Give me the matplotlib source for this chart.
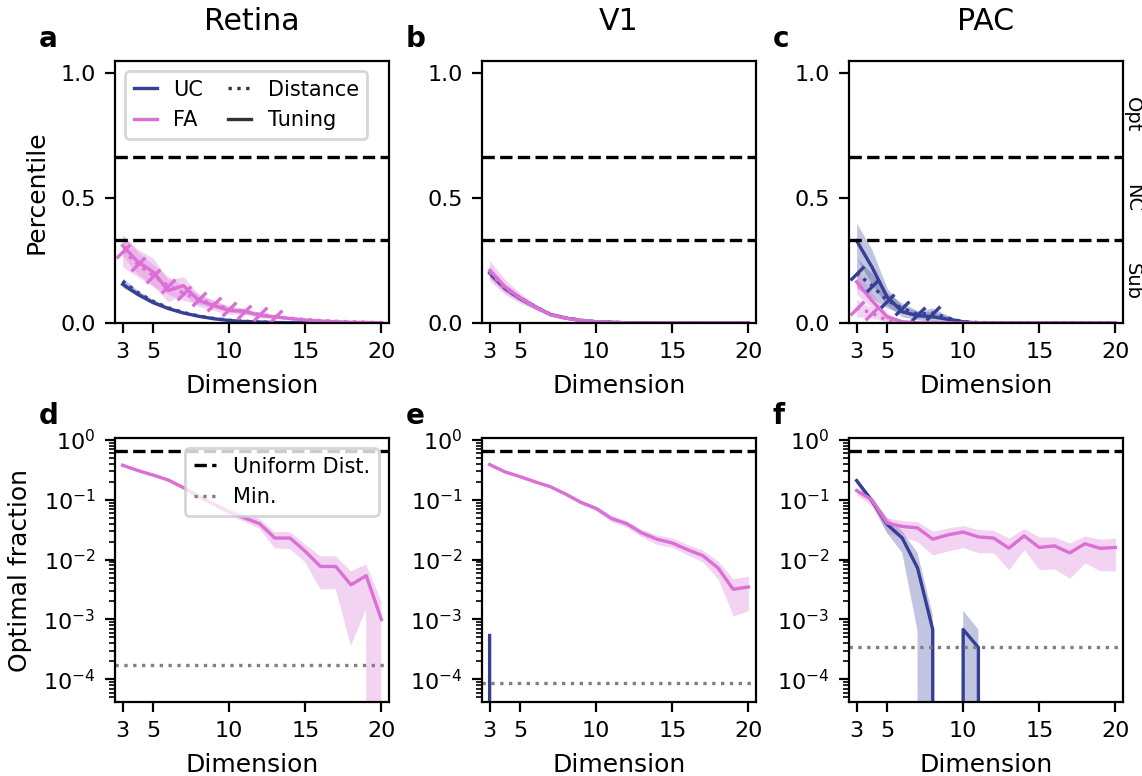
import numpy as np
import matplotlib
matplotlib.use("Agg")
import matplotlib.pyplot as plt
from matplotlib.lines import Line2D

plt.rcParams['font.family'] = ['DejaVu Sans']
plt.rcParams['font.size'] = 9
plt.rcParams['xtick.labelsize'] = 8
plt.rcParams['ytick.labelsize'] = 8
plt.rcParams['legend.fontsize'] = 7.5

dims = np.arange(3, 21)
regions = ["Retina", "V1", "PAC"]

# ------------------------------------------------------------------
# Percentile of UC / FA codes (top row), mean and spread
# ------------------------------------------------------------------
ret_uc_tun = [0.155, 0.115, 0.082, 0.058, 0.040, 0.027, 0.017, 0.010, 0.006,
              0.004, 0.002, 0.001, 0.001, 0, 0, 0, 0, 0]
ret_uc_tun_err = [0.012, 0.009, 0.007, 0.005, 0.004, 0.003, 0.002, 0.001,
                  0.001, 0.001, 0, 0, 0, 0, 0, 0, 0, 0]
ret_uc_dist = [0.168, 0.122, 0.087, 0.061, 0.042, 0.028, 0.018, 0.011, 0.007,
               0.004, 0.002, 0.001, 0.001, 0, 0, 0, 0, 0]
ret_uc_dist_err = [0.012, 0.009, 0.007, 0.005, 0.004, 0.003, 0.002, 0.001,
                   0.001, 0.001, 0, 0, 0, 0, 0, 0, 0, 0]
ret_fa_tun = [0.31, 0.245, 0.205, 0.13, 0.15, 0.09, 0.07, 0.05, 0.048, 0.03,
              0.025, 0.018, 0.012, 0.008, 0.005, 0.003, 0.002, 0.001]
ret_fa_tun_err = [0.04, 0.05, 0.055, 0.045, 0.035, 0.025, 0.02, 0.015, 0.012,
                  0.01, 0.008, 0.006, 0.004, 0.003, 0.002, 0.002, 0.001, 0.001]
ret_fa_dist = [0.29, 0.235, 0.19, 0.15, 0.12, 0.095, 0.075, 0.057, 0.045,
               0.035, 0.026, 0.019, 0.014, 0.01, 0.007, 0.005, 0.003, 0.002]
ret_fa_dist_err = [0.065, 0.05, 0.045, 0.035, 0.03, 0.02, 0.015, 0.011,
                   0.009, 0.007, 0.006, 0.004, 0.003, 0.002, 0.002, 0.001,
                   0.001, 0.001]

v1_uc_tun = [0.2, 0.14, 0.098, 0.065, 0.034, 0.02, 0.01, 0.005, 0.003, 0.001,
             0.001, 0, 0, 0, 0, 0, 0, 0]
v1_uc_tun_err = [0.015, 0.012, 0.01, 0.007, 0.004, 0.003, 0.002, 0.001,
                 0.001, 0, 0, 0, 0, 0, 0, 0, 0, 0]
v1_uc_dist = [0.205, 0.142, 0.1, 0.066, 0.035, 0.021, 0.011, 0.005, 0.003,
              0.001, 0.001, 0, 0, 0, 0, 0, 0, 0]
v1_uc_dist_err = [0.015, 0.012, 0.01, 0.007, 0.004, 0.003, 0.002, 0.001,
                  0.001, 0, 0, 0, 0, 0, 0, 0, 0, 0]
v1_fa_tun = [0.21, 0.145, 0.1, 0.064, 0.033, 0.019, 0.01, 0.005, 0.002,
             0.001, 0, 0, 0, 0, 0, 0, 0, 0]
v1_fa_tun_err = [0.04, 0.03, 0.02, 0.012, 0.007, 0.005, 0.003, 0.002, 0.001,
                 0.001, 0, 0, 0, 0, 0, 0, 0, 0]
v1_fa_dist = [0.205, 0.14, 0.1, 0.065, 0.034, 0.02, 0.01, 0.005, 0.002,
              0.001, 0, 0, 0, 0, 0, 0, 0, 0]
v1_fa_dist_err = [0.025, 0.018, 0.013, 0.009, 0.005, 0.004, 0.002, 0.001,
                  0.001, 0, 0, 0, 0, 0, 0, 0, 0, 0]

pac_uc_tun = [0.33, 0.225, 0.105, 0.045, 0.03, 0.025, 0.015, 0.005, 0, 0, 0,
              0, 0, 0, 0, 0, 0, 0]
pac_uc_tun_err = [0.07, 0.07, 0.035, 0.02, 0.017, 0.02, 0.012, 0.005, 0, 0,
                  0, 0, 0, 0, 0, 0, 0, 0]
pac_uc_dist = [0.2, 0.15, 0.09, 0.06, 0.035, 0.04, 0.02, 0.005, 0.002, 0.001,
               0, 0, 0, 0, 0, 0, 0, 0]
pac_uc_dist_err = [0.06, 0.05, 0.03, 0.02, 0.015, 0.02, 0.01, 0.004, 0.002,
                   0.001, 0, 0, 0, 0, 0, 0, 0, 0]
pac_fa_tun = [0.165, 0.09, 0.025, 0.005, 0.001, 0, 0, 0, 0, 0, 0, 0, 0, 0, 0,
              0, 0, 0]
pac_fa_tun_err = [0.05, 0.03, 0.015, 0.004, 0.001, 0, 0, 0, 0, 0, 0, 0, 0, 0,
                  0, 0, 0, 0]
pac_fa_dist = [0.06, 0.04, 0.01, 0.002, 0, 0, 0, 0, 0, 0, 0, 0, 0, 0, 0, 0, 0,
               0]
pac_fa_dist_err = [0.035, 0.02, 0.008, 0.002, 0, 0, 0, 0, 0, 0, 0, 0, 0, 0, 0,
                   0, 0, 0]

# ------------------------------------------------------------------
# Optimal fraction (bottom row), mean with lower / upper bound
# ------------------------------------------------------------------
ret_uc_opt = [0] * 18
ret_uc_opt_lo = [0] * 18
ret_uc_opt_hi = [0] * 18
ret_fa_opt = [0.38, 0.31, 0.26, 0.215, 0.16, 0.115, 0.085, 0.063, 0.05, 0.04,
              0.023, 0.023, 0.0138, 0.0077, 0.0077, 0.0038, 0.0054, 0.001]
ret_fa_opt_lo = [0.36, 0.295, 0.245, 0.202, 0.148, 0.105, 0.076, 0.055, 0.043,
                 0.033, 0.0155, 0.015, 0.009, 0.0032, 0.0032, 0.00036, 0.0015,
                 0]
ret_fa_opt_hi = [0.4, 0.325, 0.275, 0.228, 0.172, 0.125, 0.094, 0.071, 0.058,
                 0.048, 0.029, 0.029, 0.018, 0.0114, 0.0114, 0.0064, 0.0083,
                 0.002]

v1_uc_opt = [5.4e-4] + [0] * 17
v1_uc_opt_lo = [5.4e-4] + [0] * 17
v1_uc_opt_hi = [5.4e-4] + [0] * 17
v1_fa_opt = [0.39, 0.295, 0.245, 0.2, 0.166, 0.125, 0.091, 0.072, 0.049, 0.04,
             0.028, 0.022, 0.019, 0.0147, 0.0117, 0.0073, 0.0032, 0.0035]
v1_fa_opt_lo = [0.37, 0.28, 0.232, 0.19, 0.157, 0.117, 0.084, 0.066, 0.043,
                0.035, 0.024, 0.018, 0.016, 0.012, 0.0092, 0.0048, 0.00114,
                0.0014]
v1_fa_opt_hi = [0.41, 0.31, 0.258, 0.21, 0.175, 0.133, 0.098, 0.078, 0.055,
                0.045, 0.032, 0.026, 0.023, 0.018, 0.0145, 0.0095, 0.0048,
                0.0053]

pac_uc_opt = [0.21, 0.097, 0.039, 0.023, 0.0073, 6.8e-4, 0, 6.8e-4, 3.4e-4, 0,
              0, 0, 0, 0, 0, 0, 0, 0]
pac_uc_opt_lo = [0.19, 0.085, 0.028, 0.013, 6.5e-4, 0, 0, 0, 0, 0, 0, 0, 0, 0,
                 0, 0, 0, 0]
pac_uc_opt_hi = [0.23, 0.11, 0.05, 0.03, 0.013, 0.0012, 0, 0.0014, 6.8e-4, 0,
                 0, 0, 0, 0, 0, 0, 0, 0]
pac_fa_opt = [0.143, 0.1, 0.041, 0.036, 0.034, 0.022, 0.026, 0.029, 0.024,
              0.023, 0.0156, 0.025, 0.016, 0.017, 0.013, 0.0185, 0.0155, 0.016]
pac_fa_opt_lo = [0.12, 0.08, 0.028, 0.024, 0.02, 0.012, 0.014, 0.016, 0.013,
                 0.013, 0.0068, 0.0147, 0.0068, 0.007, 0.0049, 0.0088, 0.0065,
                 0.0065]
pac_fa_opt_hi = [0.165, 0.11, 0.05, 0.045, 0.043, 0.03, 0.034, 0.037, 0.032,
                 0.031, 0.023, 0.033, 0.024, 0.024, 0.019, 0.025, 0.022,
                 0.023]

# minimum achievable fraction (one optimal sample) per region
min_fraction = [1.7e-4, 8.6e-5, 3.4e-4]
uniform_fraction = 2 / 3

percentile = {
    "Retina": {"UC": (ret_uc_tun, ret_uc_tun_err, ret_uc_dist, ret_uc_dist_err),
               "FA": (ret_fa_tun, ret_fa_tun_err, ret_fa_dist, ret_fa_dist_err)},
    "V1": {"UC": (v1_uc_tun, v1_uc_tun_err, v1_uc_dist, v1_uc_dist_err),
           "FA": (v1_fa_tun, v1_fa_tun_err, v1_fa_dist, v1_fa_dist_err)},
    "PAC": {"UC": (pac_uc_tun, pac_uc_tun_err, pac_uc_dist, pac_uc_dist_err),
            "FA": (pac_fa_tun, pac_fa_tun_err, pac_fa_dist, pac_fa_dist_err)},
}
optimal = {
    "Retina": {"UC": (ret_uc_opt, ret_uc_opt_lo, ret_uc_opt_hi),
               "FA": (ret_fa_opt, ret_fa_opt_lo, ret_fa_opt_hi)},
    "V1": {"UC": (v1_uc_opt, v1_uc_opt_lo, v1_uc_opt_hi),
           "FA": (v1_fa_opt, v1_fa_opt_lo, v1_fa_opt_hi)},
    "PAC": {"UC": (pac_uc_opt, pac_uc_opt_lo, pac_uc_opt_hi),
            "FA": (pac_fa_opt, pac_fa_opt_lo, pac_fa_opt_hi)},
}

colors = {"UC": "#363f96", "FA": "#da6fd6"}
# distance curves that carry the tick marks
ticked = [("Retina", "FA"), ("PAC", "UC"), ("PAC", "FA")]

W, H = 1142, 776
fig = plt.figure(figsize=(W / 200, H / 200), dpi=200)
lefts = [115, 482, 849]
ax_w = 274
top_axes = [fig.add_axes([l / W, 1 - 323 / H, ax_w / W, 262 / H]) for l in lefts]
bot_axes = [fig.add_axes([l / W, 1 - 702 / H, ax_w / W, 264 / H]) for l in lefts]

for i, (reg, ax) in enumerate(zip(regions, top_axes)):
    for model in ["UC", "FA"]:
        tun, tun_err, dist, dist_err = [np.array(a) for a in percentile[reg][model]]
        c = colors[model]
        ax.fill_between(dims, np.clip(tun - tun_err, 0, None), tun + tun_err,
                        color=c, alpha=0.3, lw=0)
        ax.fill_between(dims, np.clip(dist - dist_err, 0, None), dist + dist_err,
                        color=c, alpha=0.3, lw=0)
        ax.plot(dims, tun, color=c, lw=1.2, ls='-')
        if (reg, model) in ticked:
            marks = list(np.flatnonzero(dist > 0.025))
            ax.plot(dims, dist, color=c, lw=1.2, ls=':', marker=(2, 0, -45),
                    markersize=7, markeredgewidth=1.2, markevery=marks)
        else:
            ax.plot(dims, dist, color=c, lw=1.2, ls=':')
    ax.axhline(1 / 3, color='k', ls='--', lw=1.2)
    ax.axhline(2 / 3, color='k', ls='--', lw=1.2)
    ax.set_xlim(2.5, 20.5)
    ax.set_ylim(0, 1.05)
    ax.set_xticks([3, 5, 10, 15, 20])
    ax.set_yticks([0, 0.5, 1.0])
    ax.set_xlabel("Dimension")
    ax.set_title(reg, pad=11)
    if i == 0:
        ax.set_ylabel("Percentile")

# regime labels on the right of the last panel
for y, lab in [(1 / 6, "Sub"), (0.5, "NC"), (5 / 6, "Opt")]:
    top_axes[2].text(1.0, y, lab, transform=top_axes[2].get_yaxis_transform(),
                     rotation=-90, ha='left', va='center', fontsize=7)

handles = [Line2D([], [], color=colors["UC"], lw=1.2, label="UC"),
           Line2D([], [], color=colors["FA"], lw=1.2, label="FA"),
           Line2D([], [], color='0.2', lw=1.2, ls=':', label="Distance"),
           Line2D([], [], color='0.2', lw=1.2, label="Tuning")]
top_axes[0].legend(handles=handles, ncol=2, loc='upper left',
                   handlelength=1.1, columnspacing=1.2)

for i, (reg, ax) in enumerate(zip(regions, bot_axes)):
    ax.set_yscale('log')
    for model in ["UC", "FA"]:
        opt, lo, hi = [np.array(a, dtype=float) for a in optimal[reg][model]]
        c = colors[model]
        ax.fill_between(dims, lo, hi, color=c, alpha=0.3, lw=0)
        ax.plot(dims, opt, color=c, lw=1.2)
    ax.axhline(uniform_fraction, color='k', ls='--', lw=1.2,
               label="Uniform Dist.")
    ax.axhline(min_fraction[i], color='gray', ls=':', lw=1.2, label="Min.")
    ax.set_xlim(2.5, 20.5)
    ax.set_ylim(10 ** -4.38, 10 ** 0.035)
    ax.set_xticks([3, 5, 10, 15, 20])
    ax.set_xlabel("Dimension")
    if i == 0:
        ax.set_ylabel("Optimal fraction")
        ax.legend(loc='upper right', handlelength=1.1)

for ax, letter in zip(top_axes + bot_axes, "abcdef"):
    ax.text(-0.28, 1.03, letter, transform=ax.transAxes, fontsize=10,
            fontweight='bold', ha='left', va='bottom')

fig.savefig("out.png", dpi=200)
